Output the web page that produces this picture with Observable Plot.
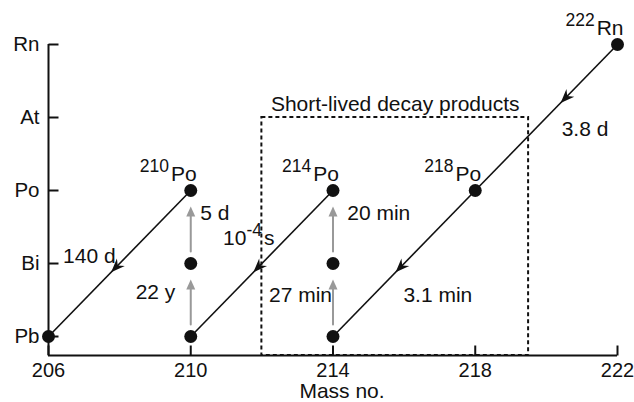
<!DOCTYPE html>
<html><head><meta charset="utf-8">
<script src="https://cdn.jsdelivr.net/npm/d3@7"></script>
<script src="https://cdn.jsdelivr.net/npm/@observablehq/plot@0.6"></script>
<style>
html,body{margin:0;padding:0;background:#fff;}
#chart svg{display:block;}
</style></head>
<body><div id="chart"></div>
<script>
// ---- data ----
const elements = ["Pb", "Bi", "Po", "At", "Rn"];
const massTicks = [206, 210, 214, 218, 222];
const nuclideMass    = [222, 218, 214, 214, 214, 210, 210, 210, 206];
const nuclideElement = ["Rn", "Po", "Pb", "Bi", "Po", "Pb", "Bi", "Po", "Pb"];
const labelledMass    = [222, 218, 214, 210];
const labelledElement = ["Rn", "Po", "Po", "Po"];
const alphaFromMass = [222, 218, 214, 210];
const alphaFromEl   = ["Rn", "Po", "Po", "Po"];
const alphaToMass   = [218, 214, 210, 206];
const alphaToEl     = ["Po", "Pb", "Pb", "Pb"];
const betaMass   = [214, 214, 210, 210];
const betaFromEl = ["Pb", "Bi", "Pb", "Bi"];
const betaToEl   = ["Bi", "Po", "Bi", "Po"];
const halfLifeText  = ["3.8 d", "3.1 min", "10^{-4}s", "140 d", "27 min", "20 min", "22 y", "5 d"];
const halfLifeMass  = [220.43, 215.98, 210.91, 206.41, 212.20, 214.40, 208.45, 210.27];
const halfLifeLevel = [2.75, 0.47, 1.25, 1.01, 0.47, 1.59, 0.51, 1.60];
const boxMass = [212, 219.5];
const boxTitle = "Short-lived decay products";
const xLabel = "Mass no.";

// ---- layout ----
const W = 634, H = 402;
const mL = 48, mR = 17, mT = 44, mB = 47;
const yMin = -0.26;
const xDom = [206, 222], yDom = [yMin, 4];
const pxPerMass = (W - mL - mR) / (xDom[1] - xDom[0]);
const pxPerLevel = (H - mT - mB) / (yDom[1] - yDom[0]);
const FONT = "'Liberation Sans', Arial, Helvetica, sans-serif";
const INK = "#111";
const GREY = "#999";

const lv = el => elements.indexOf(el);

const nuclides = nuclideMass.map((m, i) => ({mass: m, el: nuclideElement[i]}));
const labelled = labelledMass.map((m, i) => ({mass: m, el: labelledElement[i]}));
const alpha = alphaFromMass.map((m, i) => ({
  m1: m, l1: lv(alphaFromEl[i]), m2: alphaToMass[i], l2: lv(alphaToEl[i]),
  t: alphaFromEl[i] === "Rn" ? 0.4 : 0.56
}));
const beta = betaMass.map((m, i) => ({m, l1: lv(betaFromEl[i]), l2: lv(betaToEl[i])}));
const halfLives = halfLifeText.map((t, i) => ({text: t, mass: halfLifeMass[i], level: halfLifeLevel[i]}));

// custom symbols
const dart = {draw(ctx) { ctx.moveTo(0, 0); ctx.lineTo(-14, -5.5); ctx.lineTo(-9.5, 0); ctx.lineTo(-14, 5.5); ctx.closePath(); }};
const tri = {draw(ctx) { ctx.moveTo(0, 0); ctx.lineTo(-10, -4.5); ctx.lineTo(-10, 4.5); ctx.closePath(); }};
const tickRight = {draw(ctx) { ctx.moveTo(0, 0); ctx.lineTo(10, 0); }};
const tickUp = {draw(ctx) { ctx.moveTo(0, 0); ctx.lineTo(0, -10); }};

const angle = d => Math.atan2(-(d.l2 - d.l1) * pxPerLevel, (d.m2 - d.m1) * pxPerMass) * 180 / Math.PI;

const chart = Plot.plot({
  width: W, height: H,
  marginLeft: mL, marginRight: mR, marginTop: mT, marginBottom: mB,
  style: {fontFamily: FONT, fontSize: "20px", color: INK, background: "white", overflow: "visible"},
  x: {domain: xDom, axis: null},
  y: {domain: yDom, axis: null},
  marks: [
    // short-lived box
    Plot.rect([boxMass], {x1: d => d[0], x2: d => d[1], y1: yMin, y2: lv("At"),
      fill: "none", stroke: INK, strokeWidth: 2, strokeDasharray: "4,3"}),
    Plot.text([boxTitle], {x: (boxMass[0] + boxMass[1]) / 2, y: lv("At"), dy: -7,
      lineAnchor: "bottom", fontSize: 21, fill: INK}),
    // axes lines
    Plot.ruleX([xDom[0]], {stroke: INK, strokeWidth: 2}),
    Plot.ruleY([yMin], {stroke: INK, strokeWidth: 2}),
    // ticks
    Plot.dot(elements, {y: (d, i) => i, frameAnchor: "left", symbol: tickRight, fill: "none", stroke: INK, strokeWidth: 2}),
    Plot.dot(massTicks, {x: d => d, frameAnchor: "bottom", symbol: tickUp, fill: "none", stroke: INK, strokeWidth: 2}),
    // tick labels
    Plot.text(elements, {y: (d, i) => i, frameAnchor: "left", textAnchor: "end", dx: -9, fontSize: 20.5, fill: INK}),
    Plot.text(massTicks, {x: d => d, frameAnchor: "bottom", lineAnchor: "top", dy: 7, fontSize: 20, fill: INK}),
    Plot.text([xLabel], {frameAnchor: "bottom", dx: 9, dy: 42, lineAnchor: "bottom", fontSize: 21, fill: INK}),
    // beta decays (grey)
    Plot.arrow(beta, {x1: "m", y1: "l1", x2: "m", y2: "l2", headLength: 0,
      insetStart: 12, insetEnd: 20, stroke: GREY, strokeWidth: 2}),
    Plot.dot(beta, {x: "m", y: "l2", symbol: tri, rotate: -90, dy: 16, fill: GREY, stroke: "none"}),
    // alpha decays (black)
    Plot.link(alpha, {x1: "m1", y1: "l1", x2: "m2", y2: "l2", stroke: INK, strokeWidth: 1.6}),
    Plot.dot(alpha, {x: d => d.m1 + d.t * (d.m2 - d.m1), y: d => d.l1 + d.t * (d.l2 - d.l1),
      symbol: dart, rotate: angle, fill: INK, stroke: "none"}),
    // nuclides
    Plot.dot(nuclides, {x: "mass", y: d => lv(d.el), r: 6.5, fill: INK, stroke: "none"}),
    // labels
    Plot.text(labelled, {x: "mass", y: d => lv(d.el), text: d => `^{${d.mass}}${d.el}`,
      textAnchor: "end", lineAnchor: "bottom", dx: 6, dy: -10, fontSize: 21, fill: INK}),
    Plot.text(halfLives, {x: "mass", y: "level", text: "text", textAnchor: "start",
      lineAnchor: "bottom", fontSize: 21, fill: INK})
  ]
});

// superscripts: turn ^{...} into raised tspans
chart.querySelectorAll("text").forEach(t => {
  const s = t.textContent;
  if (!s.includes("^{")) return;
  const parts = s.split(/(\^\{[^}]*\})/).filter(p => p);
  t.textContent = "";
  let raised = false;
  for (const p of parts) {
    const ts = document.createElementNS("http://www.w3.org/2000/svg", "tspan");
    if (p.startsWith("^{")) {
      ts.textContent = p.slice(2, -1);
      ts.setAttribute("font-size", 17.5);
      ts.setAttribute("dy", -9);
      raised = true;
    } else {
      ts.textContent = p;
      if (raised) { ts.setAttribute("dy", 9); ts.setAttribute("dx", 2); raised = false; }
    }
    t.appendChild(ts);
  }
});

document.getElementById("chart").appendChild(chart);
</script>
</body></html>
